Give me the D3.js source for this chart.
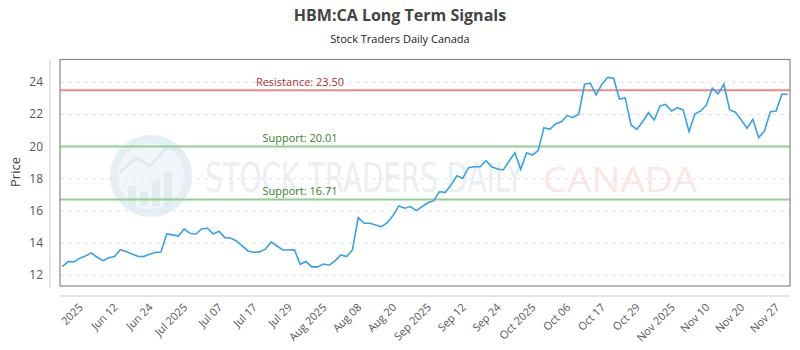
<!DOCTYPE html>
<html>
<head>
<meta charset="utf-8">
<script src="https://cdn.jsdelivr.net/npm/d3@7"></script>
<style>
  body { margin: 0; background: #fff; }
  svg { display: block; font-family: "Open Sans", sans-serif; }
</style>
</head>
<body>
<svg id="svg" width="800" height="350"></svg>
<script>
var prices = [12.53,12.85,12.83,13.06,13.20,13.39,13.12,12.91,13.09,13.16,
  13.59,13.47,13.32,13.18,13.16,13.31,13.41,13.45,14.57,14.51,
  14.44,14.88,14.61,14.55,14.88,14.92,14.57,14.74,14.34,14.32,
  14.13,13.82,13.51,13.43,13.45,13.62,14.07,13.82,13.57,13.57,
  13.59,12.68,12.85,12.52,12.52,12.70,12.62,12.89,13.26,13.16,
  13.57,15.58,15.23,15.23,15.13,15.02,15.27,15.71,16.31,16.17,
  16.27,16.02,16.27,16.51,16.64,17.20,17.16,17.62,18.19,18.03,
  18.69,18.75,18.75,19.13,18.75,18.61,18.55,19.11,19.62,18.59,
  19.62,19.48,19.75,21.18,21.08,21.41,21.55,21.93,21.80,22.03,
  23.88,23.94,23.21,23.90,24.31,24.25,22.96,23.03,21.35,21.08,
  21.55,22.11,21.66,22.53,22.63,22.22,22.42,22.28,20.93,22.03,
  22.22,22.59,23.63,23.27,23.88,22.28,22.14,21.66,21.14,21.70,
  20.56,20.97,22.17,22.22,23.26,23.26];

var tickLabels = ["2025","Jun 12","Jun 24","Jul 2025","Jul 07","Jul 17","Jul 29",
  "Aug 2025","Aug 08","Aug 20","Sep 2025","Sep 12","Sep 24","Oct 2025","Oct 06",
  "Oct 17","Oct 29","Nov 2025","Nov 10","Nov 20","Nov 27"];

var yTicks = [12,14,16,18,20,22,24];
var resistance = [23.50];
var supports = [20.01,16.71];

var svg = d3.select("#svg");
var plotLeft = 60, plotRight = 790, plotTop = 59.5, plotBottom = 286;

var x = d3.scaleLinear().domain([0, prices.length - 1]).range([62.3, 787.7]);
var y = d3.scaleLinear().domain([11.33, 25.42]).range([plotBottom, plotTop]);

// titles
svg.append("text").attr("x", 400).attr("y", 21).attr("text-anchor", "middle")
  .attr("font-size", 16).attr("font-weight", "bold").attr("fill", "#444")
  .text("HBM:CA Long Term Signals");
svg.append("text").attr("x", 400).attr("y", 43).attr("text-anchor", "middle")
  .attr("font-size", 11).attr("fill", "#222")
  .text("Stock Traders Daily Canada");

// watermark
var wm = svg.append("g").attr("opacity", 0.9);
wm.append("circle").attr("cx", 151).attr("cy", 176).attr("r", 37)
  .attr("fill", "#f1f6fa").attr("stroke", "#e2edf5").attr("stroke-width", 8);
[[128,186,8,20],[140,192,8,14],[152,180,8,26],[164,172,8,34]].forEach(function(b){
  wm.append("rect").attr("x", b[0]).attr("y", b[1]).attr("width", b[2]).attr("height", b[3])
    .attr("fill", "#e0e9f0");
});
wm.append("polyline").attr("points", "120,172 136,158 150,166 166,148 182,150")
  .attr("fill", "none").attr("stroke", "#dfe8ef").attr("stroke-width", 3);
wm.append("text").attr("x", 205).attr("y", 192).attr("font-size", 40)
  .attr("font-family", "'DejaVu Sans Condensed', sans-serif")
  .attr("textLength", 318).attr("lengthAdjust", "spacingAndGlyphs")
  .attr("fill", "#e8eef3").text("STOCK TRADERS DAILY");
wm.append("text").attr("x", 543).attr("y", 192).attr("font-size", 35)
  .attr("textLength", 154).attr("lengthAdjust", "spacingAndGlyphs")
  .attr("fill", "#fbe3e3").text("CANADA");

// grid
svg.selectAll(".grid").data(yTicks).enter().append("line")
  .attr("x1", plotLeft).attr("x2", plotRight)
  .attr("y1", function(d){ return y(d); }).attr("y2", function(d){ return y(d); })
  .attr("stroke", "#e4e4e4").attr("stroke-dasharray", "4,4");

// y axis
svg.append("line").attr("x1", 50).attr("x2", 50).attr("y1", plotTop).attr("y2", 288)
  .attr("stroke", "#ccc");
svg.selectAll(".ylab").data(yTicks).enter().append("text")
  .attr("x", 43).attr("y", function(d){ return y(d) + 4; })
  .attr("text-anchor", "end").attr("font-size", 12).attr("fill", "#555")
  .text(function(d){ return d; });
svg.append("text").attr("transform", "translate(20,172) rotate(-90)")
  .attr("text-anchor", "middle").attr("font-size", 13).attr("fill", "#444").text("Price");

// x axis
svg.append("line").attr("x1", plotLeft).attr("x2", plotRight).attr("y1", 296).attr("y2", 296)
  .attr("stroke", "#ccc");
svg.selectAll(".xlab").data(tickLabels).enter().append("text")
  .attr("transform", function(d, i){
    return "translate(" + (x(3 + i * 6) + 4) + ",308) rotate(-45)";
  })
  .attr("text-anchor", "end").attr("font-size", 11).attr("fill", "#555")
  .text(function(d){ return d; });

// levels
function addLevel(value, color, textColor, name){
  svg.append("line").attr("x1", plotLeft).attr("x2", plotRight)
    .attr("y1", y(value)).attr("y2", y(value))
    .attr("stroke", color).attr("stroke-width", 2);
  svg.append("text").attr("x", 300).attr("y", y(value) - 4.5)
    .attr("text-anchor", "middle").attr("font-size", 11).attr("fill", textColor)
    .text(name + ": " + value.toFixed(2));
}
resistance.forEach(function(v){ addLevel(v, "#ee8a8a", "#a83232", "Resistance"); });
supports.forEach(function(v){ addLevel(v, "#92cf92", "#3b7d2c", "Support"); });

// price line
var line = d3.line().x(function(d, i){ return x(i); }).y(function(d){ return y(d); });
svg.append("path").datum(prices).attr("d", line)
  .attr("fill", "none").attr("stroke", "#36a2eb").attr("stroke-width", 1.6);

// frame
svg.append("rect").attr("x", plotLeft).attr("y", plotTop).attr("width", plotRight - plotLeft)
  .attr("height", plotBottom - plotTop).attr("fill", "none").attr("stroke", "#888").attr("stroke-width", 1.2);
</script>
</body>
</html>
